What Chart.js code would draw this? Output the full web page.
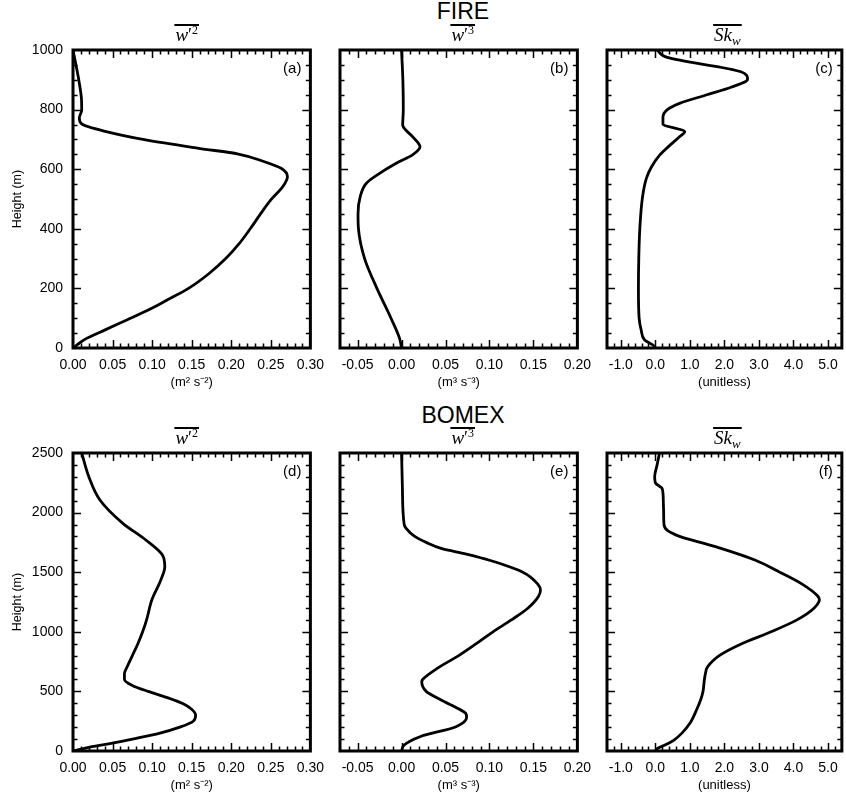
<!DOCTYPE html>
<html>
<head>
<meta charset="utf-8">
<script src="https://cdn.jsdelivr.net/npm/chart.js@4.4.1/dist/chart.umd.min.js"></script>
<style>
  html, body { margin: 0; padding: 0; background: #fff; overflow: hidden; }
  body { width: 846px; height: 802px; position: relative; font-family: "Liberation Sans", Arial, sans-serif; }
  canvas { position: absolute; }
  .case { position: absolute; left: 463px; transform: translateX(-50%); font-size: 23px; line-height: 23px; color: #000; white-space: nowrap; }
</style>
</head>
<body>
<div class="case" style="top:0px">FIRE</div>
<div class="case" style="top:404px">BOMEX</div>
<canvas id="pa"></canvas>
<canvas id="pb"></canvas>
<canvas id="pc"></canvas>
<canvas id="pd"></canvas>
<canvas id="pe"></canvas>
<canvas id="pf"></canvas>
<script>
// ── Data ──

// tick labels
const w2Ticks = [0, 0.05, 0.10, 0.15, 0.20, 0.25, 0.30];
const w3Ticks = [-0.05, 0, 0.05, 0.10, 0.15, 0.20];
const skwTicks = [-1, 0, 1, 2, 3, 4, 5];
const fireHeightTicks = [0, 200, 400, 600, 800, 1000];
const bomexHeightTicks = [0, 500, 1000, 1500, 2000, 2500];

// FIRE (a) w'^2
const fireW2Height = [0, 12, 29, 60, 94, 130, 161, 200, 250, 300, 350, 400, 450, 497, 541, 575, 603, 625, 651, 670, 698, 726, 752, 771, 799, 832, 910, 1000];
const fireW2Value = [0, 0.006, 0.015, 0.040, 0.068, 0.097, 0.119, 0.146, 0.172, 0.193, 0.210, 0.224, 0.237, 0.250, 0.265, 0.271, 0.263, 0.242, 0.209, 0.159, 0.092, 0.042, 0.011, 0.008, 0.011, 0.0108, 0.0066, 0];

// FIRE (b) w'^3
const fireW3Height = [0, 30, 100, 200, 300, 400, 450, 508, 553, 586, 620, 648, 675, 709, 748, 800, 900, 1000];
const fireW3Value = [0, -0.002, -0.012, -0.028, -0.042, -0.049, -0.0495, -0.047, -0.040, -0.025, -0.006, 0.0125, 0.021, 0.0125, 0.0013, 0.002, 0.0015, 0];

// FIRE (c) Sk_w
const fireSkwHeight = [0, 10, 27, 60, 100, 200, 300, 400, 508, 569, 608, 648, 675, 709, 726, 752, 774, 799, 821, 849, 875, 902, 927, 975, 1000];
const fireSkwValue = [0.0, -0.07, -0.31, -0.41, -0.47, -0.49, -0.48, -0.45, -0.37, -0.26, -0.11, 0.13, 0.37, 0.70, 0.85, 0.22, 0.22, 0.34, 0.70, 1.47, 2.19, 2.67, 2.48, 0.34, 0.05];

// BOMEX (d) w'^2
const bomexW2Height = [0, 36, 60, 106, 150, 200, 250, 300, 350, 400, 450, 500, 550, 600, 650, 700, 800, 900, 1000, 1100, 1267, 1435, 1546, 1644, 1770, 1910, 2106, 2301, 2500];
const bomexW2Value = [0, 0.024, 0.045, 0.080, 0.110, 0.135, 0.152, 0.155, 0.150, 0.138, 0.118, 0.095, 0.075, 0.065, 0.065, 0.068, 0.075, 0.082, 0.088, 0.093, 0.0996, 0.111, 0.116, 0.113, 0.092, 0.063, 0.034, 0.020, 0.011];

// BOMEX (e) w'^3
const bomexW3Height = [0, 50, 120, 204, 280, 316, 350, 428, 500, 580, 600, 700, 800, 900, 1000, 1100, 1200, 1300, 1350, 1400, 1500, 1600, 1650, 1700, 1750, 1800, 1870, 1900, 2200, 2500];
const bomexW3Value = [0, 0.003, 0.021, 0.062, 0.074, 0.073, 0.066, 0.045, 0.028, 0.023, 0.024, 0.042, 0.065, 0.085, 0.104, 0.125, 0.144, 0.156, 0.158, 0.155, 0.138, 0.100, 0.075, 0.045, 0.028, 0.015, 0.005, 0.003, 0.001, 0];

// BOMEX (f) Sk_w
const bomexSkwHeight = [0, 23, 50, 92, 150, 232, 350, 428, 500, 600, 650, 700, 800, 900, 1000, 1100, 1200, 1270, 1300, 1400, 1500, 1600, 1700, 1750, 1800, 1850, 1900, 2000, 2100, 2200, 2250, 2300, 2400, 2500];
const bomexSkwValue = [0, 0.07, 0.28, 0.54, 0.77, 1.00, 1.20, 1.31, 1.38, 1.42, 1.45, 1.50, 1.85, 2.50, 3.35, 4.10, 4.60, 4.75, 4.70, 4.25, 3.60, 2.90, 1.90, 1.30, 0.70, 0.35, 0.25, 0.24, 0.23, 0.20, 0.0, -0.02, 0.05, 0.12];

// ── Layout ──
const AXIS_W = 73;   // room for y tick labels + title
const AXIS_H = 48;   // room for x tick labels + units
const TOP_PAD = 50;  // room for subtitle above the frame

Chart.defaults.color = '#000';
Chart.defaults.font.family = '"Liberation Sans", Arial, sans-serif';

// frame with inward ticks, panel letter, overlined subtitle
const framePlugin = {
    id: 'frame',
    afterDatasetsDraw(chart, args, o) {
        const { ctx, chartArea: a, scales: { x, y } } = chart;
        ctx.save();
        ctx.strokeStyle = '#000';
        ctx.lineWidth = 1.5;
        ctx.beginPath();
        const nx = Math.round((x.max - x.min) / o.xMinor);
        for (let i = 1; i < nx; i++) {
            const v = x.min + i * o.xMinor;
            const major = o.xTicks.some(t => Math.abs(t - v) < 1e-9);
            const len = major ? 8 : 4.5;
            const px = Math.round(x.getPixelForValue(v)) + 0.5;
            ctx.moveTo(px, a.bottom); ctx.lineTo(px, a.bottom - len);
            ctx.moveTo(px, a.top); ctx.lineTo(px, a.top + len);
        }
        const ny = Math.round((y.max - y.min) / o.yMinor);
        for (let i = 1; i < ny; i++) {
            const v = y.min + i * o.yMinor;
            const major = o.yTicks.some(t => Math.abs(t - v) < 1e-9);
            const len = major ? 8 : 4.5;
            const py = Math.round(y.getPixelForValue(v)) + 0.5;
            ctx.moveTo(a.left, py); ctx.lineTo(a.left + len, py);
            ctx.moveTo(a.right, py); ctx.lineTo(a.right - len, py);
        }
        ctx.stroke();

        ctx.lineWidth = 3;
        ctx.strokeRect(a.left, a.top, a.right - a.left, a.bottom - a.top);

        // panel letter
        ctx.fillStyle = '#000';
        ctx.font = '15px "Liberation Sans", Arial, sans-serif';
        ctx.textAlign = 'right';
        ctx.textBaseline = 'alphabetic';
        ctx.fillText(o.letter, a.right - 9, a.top + 23);

        // overlined subtitle
        const parts = o.sub;
        ctx.textAlign = 'left';
        let total = 0;
        parts.forEach(p => { ctx.font = p.font; total += ctx.measureText(p.text).width; });
        const cx = (a.left + a.right) / 2 + o.subShift;
        const base = a.top - 9;
        let sx = cx - total / 2;
        parts.forEach(p => {
            ctx.font = p.font;
            ctx.fillText(p.text, sx, base + p.dy);
            sx += ctx.measureText(p.text).width;
        });
        ctx.fillRect(cx - total / 2 - 1, base - 17, total + 2, 2);
        ctx.restore();
    }
};

const bigIt = 'italic 19px "Liberation Serif", serif';
const bigUp = '18px "Liberation Serif", serif';
const smallUp = '12px "Liberation Serif", serif';
const smallIt = 'italic 13px "Liberation Serif", serif';
const subW2 = [{ text: 'w', font: bigIt, dy: 0 }, { text: '\u2032', font: bigUp, dy: 0 }, { text: '2', font: smallUp, dy: -7 }];
const subW3 = [{ text: 'w', font: bigIt, dy: 0 }, { text: '\u2032', font: bigUp, dy: 0 }, { text: '3', font: smallUp, dy: -7 }];
const subSkw = [{ text: 'Sk', font: bigIt, dy: 0 }, { text: 'w', font: smallIt, dy: 4 }];

function makePanel(id, p) {
    const canvas = document.getElementById(id);
    const w = AXIS_W + p.width + p.padRight;
    const h = TOP_PAD + 298 + AXIS_H;
    canvas.width = w; canvas.height = h;
    canvas.style.left = (p.left - AXIS_W) + 'px';
    canvas.style.top = (p.top - TOP_PAD) + 'px';

    const points = p.values.map((v, i) => ({ x: v, y: p.heights[i] }));

    new Chart(canvas, {
        type: 'line',
        data: {
            datasets: [{
                data: points,
                borderColor: '#000',
                borderWidth: 2.8,
                pointRadius: 0,
                fill: false,
                cubicInterpolationMode: 'monotone'
            }]
        },
        options: {
            indexAxis: 'y',
            responsive: false,
            animation: false,
            devicePixelRatio: 1,
            events: [],
            layout: { padding: { top: TOP_PAD, right: p.padRight, left: 0, bottom: 0 } },
            plugins: {
                legend: { display: false },
                tooltip: { enabled: false },
                frame: { letter: p.letter, sub: p.sub, subShift: p.subShift, xTicks: p.xTicks, yTicks: p.yTicks, xMinor: p.xMinor, yMinor: p.yMinor }
            },
            scales: {
                x: {
                    type: 'linear', position: 'bottom', min: p.xMin, max: p.xMax,
                    grid: { display: false, drawTicks: false },
                    border: { display: false },
                    afterBuildTicks: s => { s.ticks = p.xTicks.map(v => ({ value: v })); },
                    afterFit: s => { s.height = AXIS_H; },
                    ticks: { padding: 9, maxRotation: 0, autoSkip: false, font: { size: 14 }, callback: v => v.toFixed(p.xDigits) },
                    title: { display: true, text: p.unit, font: { size: 13 }, padding: { top: 0, bottom: 6 } }
                },
                y: {
                    type: 'linear', position: 'left', min: 0, max: p.yMax,
                    grid: { display: false, drawTicks: false },
                    border: { display: false },
                    afterBuildTicks: s => { s.ticks = p.yTicks.map(v => ({ value: v })); },
                    afterFit: s => { s.width = AXIS_W; },
                    ticks: { display: p.showY, padding: 10, autoSkip: false, font: { size: 14 }, callback: v => String(v) },
                    title: { display: p.showY, text: 'Height (m)', font: { size: 12.5 }, padding: { top: 10, bottom: 0 } }
                }
            }
        },
        plugins: [framePlugin]
    });
}

const unitW2 = '(m\u00B2 s\u207B\u00B2)';
const unitW3 = '(m\u00B3 s\u207B\u00B3)';
const unitSkw = '(unitless)';

const colA = { left: 73, width: 240, padRight: 20, xMin: 0, xMax: 0.3, xTicks: w2Ticks, xMinor: 0.01, xDigits: 2, unit: unitW2, sub: subW2, subShift: -5, showY: true };
const colB = { left: 340, width: 240, padRight: 20, xMin: -0.07, xMax: 0.2, xTicks: w3Ticks, xMinor: 0.01, xDigits: 2, unit: unitW3, sub: subW3, subShift: 4, showY: false };
const colC = { left: 607, width: 236, padRight: 4, xMin: -1.4, xMax: 5.4, xTicks: skwTicks, xMinor: 0.2, xDigits: 1, unit: unitSkw, sub: subSkw, subShift: 3, showY: false };
const rowFire = { top: 50, yMax: 1000, yTicks: fireHeightTicks, yMinor: 50 };
const rowBomex = { top: 453, yMax: 2500, yTicks: bomexHeightTicks, yMinor: 100 };

makePanel('pa', { ...colA, ...rowFire, letter: '(a)', heights: fireW2Height, values: fireW2Value });
makePanel('pb', { ...colB, ...rowFire, letter: '(b)', heights: fireW3Height, values: fireW3Value });
makePanel('pc', { ...colC, ...rowFire, letter: '(c)', heights: fireSkwHeight, values: fireSkwValue });
makePanel('pd', { ...colA, ...rowBomex, letter: '(d)', heights: bomexW2Height, values: bomexW2Value });
makePanel('pe', { ...colB, ...rowBomex, letter: '(e)', heights: bomexW3Height, values: bomexW3Value });
makePanel('pf', { ...colC, ...rowBomex, letter: '(f)', heights: bomexSkwHeight, values: bomexSkwValue });
</script>
</body>
</html>
